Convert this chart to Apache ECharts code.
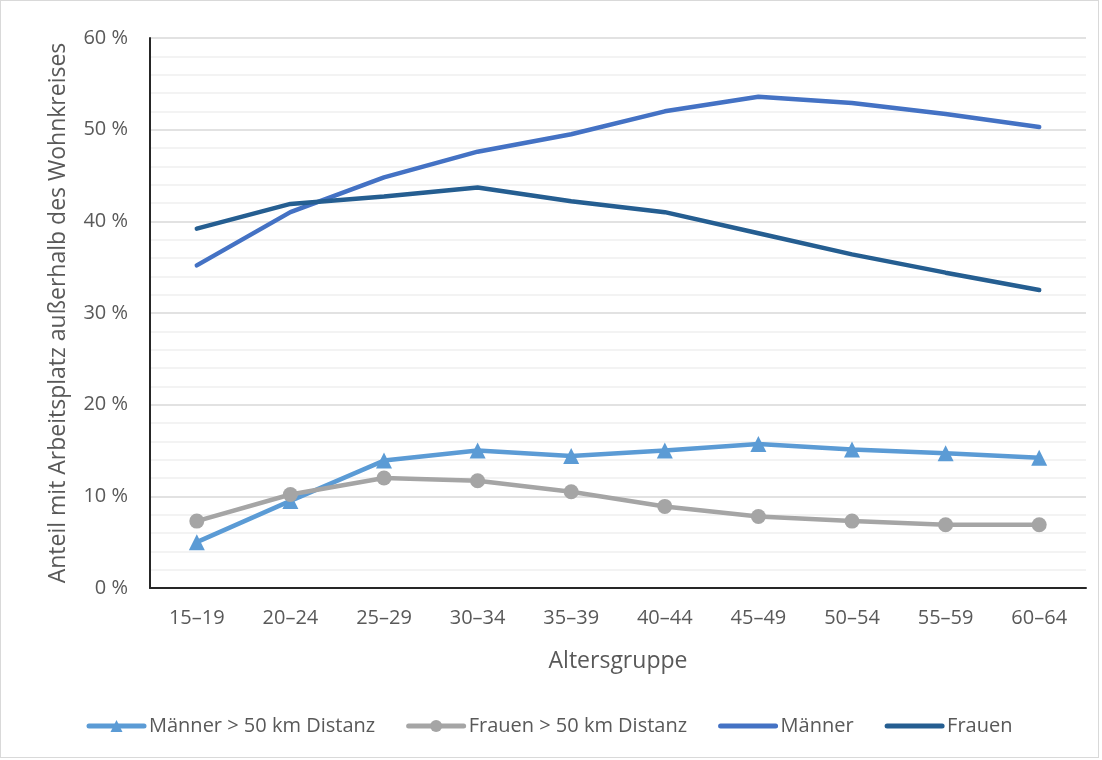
<!DOCTYPE html>
<html>
<head>
<meta charset="UTF-8">
<title></title>
<style>
  html, body { margin: 0; padding: 0; background: #fff; }
  #main { width: 1097px; height: 756px; border: 1px solid #d9d9d9; }
</style>
</head>
<body>
<div id="main"></div>
<script src="https://cdn.jsdelivr.net/npm/echarts@6/dist/echarts.min.js"></script>
<script>
var categories = ['15–19', '20–24', '25–29', '30–34', '35–39', '40–44', '45–49', '50–54', '55–59', '60–64'];
var maennerFern = [5.0, 9.5, 13.9, 15.0, 14.4, 15.0, 15.7, 15.1, 14.7, 14.2];
var frauenFern = [7.3, 10.2, 12.0, 11.7, 10.5, 8.9, 7.8, 7.3, 6.9, 6.9];
var maenner = [35.2, 41.0, 44.8, 47.6, 49.5, 52.0, 53.6, 52.9, 51.7, 50.3];
var frauen = [39.2, 41.9, 42.7, 43.7, 42.2, 41.0, 38.7, 36.4, 34.4, 32.5];

var textColor = '#595959';
var font = 'Open Sans';

var chart = echarts.init(document.getElementById('main'));
chart.setOption({
    animation: false,
    grid: { left: 149, right: 12, top: 37, bottom: 169, containLabel: false },
    legend: {
        bottom: 16,
        left: 'center',
        itemWidth: 55,
        itemHeight: 15,
        itemGap: 31,
        lineStyle: { width: 5, cap: 'round' },
        textStyle: { color: textColor, fontSize: 20, fontFamily: font },
        data: [
            'Männer > 50 km Distanz',
            'Frauen > 50 km Distanz',
            { name: 'Männer', itemStyle: { opacity: 0 } },
            { name: 'Frauen', itemStyle: { opacity: 0 } }
        ]
    },
    xAxis: {
        type: 'category',
        data: categories,
        name: 'Altersgruppe',
        nameLocation: 'middle',
        nameGap: 62,
        nameTextStyle: { color: textColor, fontSize: 23, fontFamily: font },
        axisLine: { lineStyle: { color: '#262626', width: 2 } },
        axisTick: { show: false },
        axisLabel: { color: textColor, fontSize: 20, fontFamily: font, margin: 20 }
    },
    yAxis: {
        type: 'value',
        min: 0,
        max: 60,
        interval: 10,
        name: 'Anteil mit Arbeitsplatz außerhalb des Wohnkreises',
        nameLocation: 'middle',
        nameGap: 80,
        nameTextStyle: { color: textColor, fontSize: 23, fontFamily: font },
        axisLine: { show: true, lineStyle: { color: '#262626', width: 2 } },
        axisTick: { show: false },
        axisLabel: { color: textColor, fontSize: 20, fontFamily: font, formatter: '{value} %', margin: 22 },
        splitLine: { lineStyle: { color: '#d9d9d9', width: 1.5 } },
        minorTick: { show: false, splitNumber: 5 },
        minorSplitLine: { show: true, lineStyle: { color: '#f0f0f0', width: 1.5 } }
    },
    series: [
        {
            name: 'Männer > 50 km Distanz',
            type: 'line',
            data: maennerFern,
            symbol: 'triangle',
            symbolSize: 16,
            itemStyle: { color: '#5b9bd5' },
            lineStyle: { width: 4.5, color: '#5b9bd5' }
        },
        {
            name: 'Frauen > 50 km Distanz',
            type: 'line',
            data: frauenFern,
            symbol: 'circle',
            symbolSize: 15,
            itemStyle: { color: '#a5a5a5' },
            lineStyle: { width: 4.5, color: '#a5a5a5' }
        },
        {
            name: 'Männer',
            type: 'line',
            data: maenner,
            symbol: 'none',
            itemStyle: { color: '#4472c4' },
            lineStyle: { width: 4.5, color: '#4472c4', cap: 'round' }
        },
        {
            name: 'Frauen',
            type: 'line',
            data: frauen,
            symbol: 'none',
            itemStyle: { color: '#255e91' },
            lineStyle: { width: 4.5, color: '#255e91', cap: 'round' }
        }
    ]
});
</script>
</body>
</html>
